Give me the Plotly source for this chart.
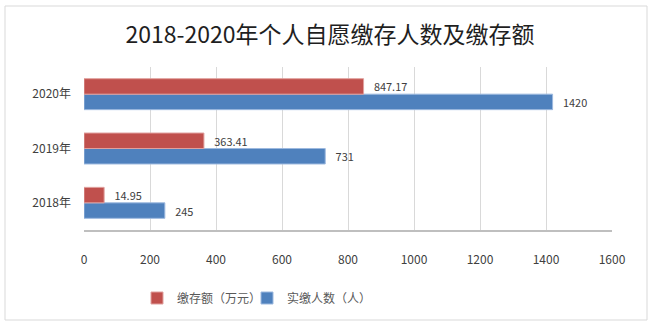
import plotly.graph_objects as go

years = ["2018年", "2019年", "2020年"]
people = [245, 731, 1420]
people_labels = ["245", "731", "1420"]
amount = [61, 363.41, 847.17]
amount_labels = ["14.95", "363.41", "847.17"]
x_ticks = [0, 200, 400, 600, 800, 1000, 1200, 1400, 1600]

FONT = "Noto Sans CJK SC"
W, H = 656, 329
L, R, T, B = 84, 44, 67, 99
pw, ph = W - L - R, H - T - B

fig = go.Figure()
fig.add_trace(go.Bar(
    y=years, x=people, orientation="h", name="实缴人数（人）",
    marker=dict(color="#4F81BD", line=dict(color="#9DB9DF", width=1)),
    text=["   " + t for t in people_labels], textposition="outside",
    textfont=dict(family=FONT, size=12, color="#404040"),
    cliponaxis=False, legend="legend2",
))
fig.add_trace(go.Bar(
    y=years, x=amount, orientation="h", name="缴存额（万元）",
    marker=dict(color="#C0504D", line=dict(color="#E0A09E", width=1)),
    text=["   " + t for t in amount_labels], textposition="outside",
    textfont=dict(family=FONT, size=12, color="#404040"),
    cliponaxis=False, legend="legend",
))

def px2x(p):
    return (p - L) / pw

def px2y(p):
    return (H - B - p) / ph

leg_common = dict(orientation="h", xanchor="left", y=px2y(298), yanchor="middle",
                  font=dict(family=FONT, size=12, color="#595959"),
                  itemwidth=30, bgcolor="rgba(0,0,0,0)")

fig.update_layout(
    width=W, height=H,
    margin=dict(l=L, r=R, t=T, b=B, autoexpand=False),
    paper_bgcolor="white", plot_bgcolor="white",
    barmode="group", bargap=0.43, bargroupgap=0,
    font=dict(family=FONT, color="#595959", size=12),
    title=dict(text="2018-2020年个人自愿缴存人数及缴存额", x=330 / W, xref="container",
               xanchor="center", y=1 - 35 / H, yanchor="middle",
               font=dict(family=FONT, size=23, color="#1F1F1F")),
    xaxis=dict(range=[0, 1600], tickvals=x_ticks, showgrid=True,
               gridcolor="#D9D9D9", gridwidth=1, zeroline=False,
               showline=True, linecolor="#BFBFBF", linewidth=2,
               ticks="", ticklabelstandoff=18,
               tickfont=dict(family=FONT, size=12, color="#404040")),
    yaxis=dict(showgrid=False, zeroline=False, showline=False, ticks="",
               ticklabelstandoff=12,
               tickfont=dict(family=FONT, size=12, color="#404040")),
    legend=dict(x=px2x(137), **leg_common),
    legend2=dict(x=px2x(247), **leg_common),
    showlegend=True,
    shapes=[dict(type="rect", xref="paper", yref="paper",
                 x0=px2x(5), x1=px2x(647), y0=px2y(320), y1=px2y(6),
                 line=dict(color="#D9D9D9", width=1), fillcolor="rgba(0,0,0,0)",
                 layer="below")],
)

fig.write_html("out.html")
